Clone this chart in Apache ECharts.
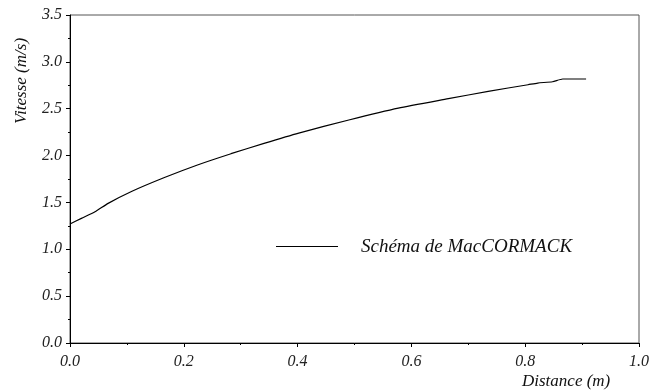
<!DOCTYPE html>
<html>
<head>
<meta charset="utf-8">
<script src="https://cdn.jsdelivr.net/npm/echarts@6/dist/echarts.min.js"></script>
<style>html,body{margin:0;padding:0;background:#fff}#c{width:652px;height:391px}</style>
</head>
<body>
<div id="c"></div>
<script>
var distance = [0, 0.02, 0.044, 0.067, 0.108, 0.166, 0.224, 0.283, 0.341, 0.402, 0.49, 0.577, 0.665, 0.735, 0.805, 0.822, 0.848, 0.866, 0.907];
var vitesse  = [1.27, 1.33, 1.40, 1.49, 1.617, 1.766, 1.90, 2.02, 2.13, 2.24, 2.38, 2.507, 2.607, 2.685, 2.756, 2.774, 2.788, 2.817, 2.817];
var seriesName = 'Schéma de MacCORMACK';
var xTitle = 'Distance (m)';
var yTitle = 'Vitesse (m/s)';

var FONT = '"Liberation Serif", "DejaVu Serif", serif';
var chart = echarts.init(document.getElementById('c'));
var pts = distance.map(function (d, i) { return [d, vitesse[i]]; });
chart.setOption({
  animation: false,
  grid: { left: 70, right: 10, top: 15, bottom: 48, show: true, borderColor: '#555', borderWidth: 1 },
  legend: {
    left: 271, top: 232,
    icon: 'rect',
    itemWidth: 62, itemHeight: 1,
    itemStyle: { color: '#000' },
    data: [seriesName],
    textStyle: { fontFamily: FONT, fontStyle: 'italic', fontSize: 19, color: '#111', padding: [0, 0, 0, 18] }
  },
  xAxis: {
    type: 'value', min: 0, max: 1, interval: 0.2,
    axisLine: { show: true, lineStyle: { color: '#000', width: 1 } },
    axisTick: { show: true, inside: false, length: 4, lineStyle: { color: '#000' } },
    minorTick: { show: true, splitNumber: 2, length: 2, lineStyle: { color: '#000' } },
    splitLine: { show: false },
    axisLabel: { margin: 11, fontFamily: FONT, fontStyle: 'italic', fontSize: 16, color: '#222',
      formatter: function (v) { return v.toFixed(1); } }
  },
  yAxis: {
    type: 'value', min: 0, max: 3.5, interval: 0.5,
    axisLine: { show: true, lineStyle: { color: '#000', width: 1 } },
    axisTick: { show: true, inside: false, length: 4, lineStyle: { color: '#000' } },
    minorTick: { show: true, splitNumber: 2, length: 2, lineStyle: { color: '#000' } },
    splitLine: { show: false },
    axisLabel: { margin: 8, fontFamily: FONT, fontStyle: 'italic', fontSize: 16, color: '#222',
      formatter: function (v) { return v.toFixed(1); } }
  },
  graphic: [
    { type: 'text', left: 522, top: 373,
      style: { text: xTitle, font: 'italic 17px ' + FONT, fill: '#111' } },
    { type: 'text', x: 13, y: 81, rotation: Math.PI / 2,
      style: { text: yTitle, font: 'italic 17px ' + FONT, fill: '#111', align: 'center', verticalAlign: 'top' } }
  ],
  series: [{
    name: seriesName, type: 'line', data: pts, symbol: 'none', smooth: 0.2,
    lineStyle: { color: '#000', width: 1.2 }, itemStyle: { color: '#000' }
  }]
});
</script>
</body>
</html>
